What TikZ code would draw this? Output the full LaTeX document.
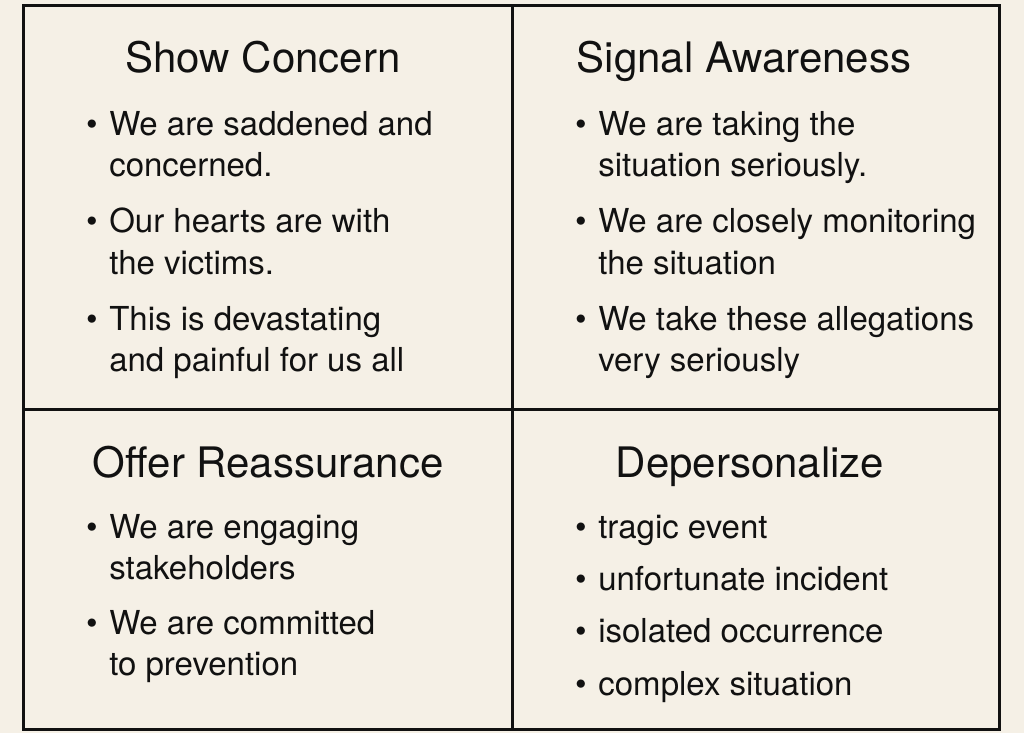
\documentclass[tikz,border=0pt]{standalone}
\usepackage{fontspec}
\setmainfont{TeX Gyre Heros}
\definecolor{paper}{RGB}{245,240,230}
\definecolor{ink}{RGB}{17,17,17}
\begin{document}
\begin{tikzpicture}[x=0.75pt, y=-0.75pt]
\tikzstyle{ttl}=[anchor=base, inner sep=0, text=ink, font=\fontsize{31.5}{36}\selectfont]
\tikzstyle{ln}=[anchor=base west, inner sep=0, text=ink, font=\fontsize{24.75}{30}\selectfont]
\tikzstyle{dot}=[anchor=base, inner sep=0, text=ink, font=\fontsize{24.75}{30}\selectfont]
\useasboundingbox[fill=paper] (0,0) rectangle (1024,733);

% grid
\draw[ink, line width=2.25pt] (23,5) rectangle (999,729);
\draw[ink, line width=2.25pt] (512,5) -- (512,729);
\draw[ink, line width=2.25pt] (23,409) -- (999,409);

% Show Concern
\node[ttl] (concern) at (263,72) {Show Concern};
\node[dot] (cd1) at (92,135) {•};
\node[ln] (c1a) at (109,135) {We are saddened and};
\node[ln] (c1b) at (109,176) {concerned.};
\node[dot] (cd2) at (92,232) {•};
\node[ln] (c2a) at (109,232) {Our hearts are with};
\node[ln] (c2b) at (109,274) {the victims.};
\node[dot] (cd3) at (92,330) {•};
\node[ln] (c3a) at (109,330) {This is devastating};
\node[ln] (c3b) at (109,371) {and painful for us all};

% Signal Awareness
\node[ttl] (aware) at (744,72) {Signal Awareness};
\node[dot] (ad1) at (581,135) {•};
\node[ln] (a1a) at (598,135) {We are taking the};
\node[ln] (a1b) at (598,176) {situation seriously.};
\node[dot] (ad2) at (581,232) {•};
\node[ln] (a2a) at (598,232) {We are closely monitoring};
\node[ln] (a2b) at (598,274) {the situation};
\node[dot] (ad3) at (581,330) {•};
\node[ln] (a3a) at (598,330) {We take these allegations};
\node[ln] (a3b) at (598,371) {very seriously};

% Offer Reassurance
\node[ttl] (reass) at (268,477) {Offer Reassurance};
\node[dot] (rd1) at (92,538) {•};
\node[ln] (r1a) at (109,538) {We are engaging};
\node[ln] (r1b) at (109,579) {stakeholders};
\node[dot] (rd2) at (92,634) {•};
\node[ln] (r2a) at (109,634) {We are committed};
\node[ln] (r2b) at (109,675) {to prevention};

% Depersonalize
\node[ttl] (deper) at (750,477) {Depersonalize};
\node[dot] (dd1) at (581,538) {•};
\node[ln] (d1) at (598,538) {tragic event};
\node[dot] (dd2) at (581,590) {•};
\node[ln] (d2) at (598,590) {unfortunate incident};
\node[dot] (dd3) at (581,642) {•};
\node[ln] (d3) at (598,642) {isolated occurrence};
\node[dot] (dd4) at (581,695) {•};
\node[ln] (d4) at (598,695) {complex situation};
\end{tikzpicture}
\end{document}
